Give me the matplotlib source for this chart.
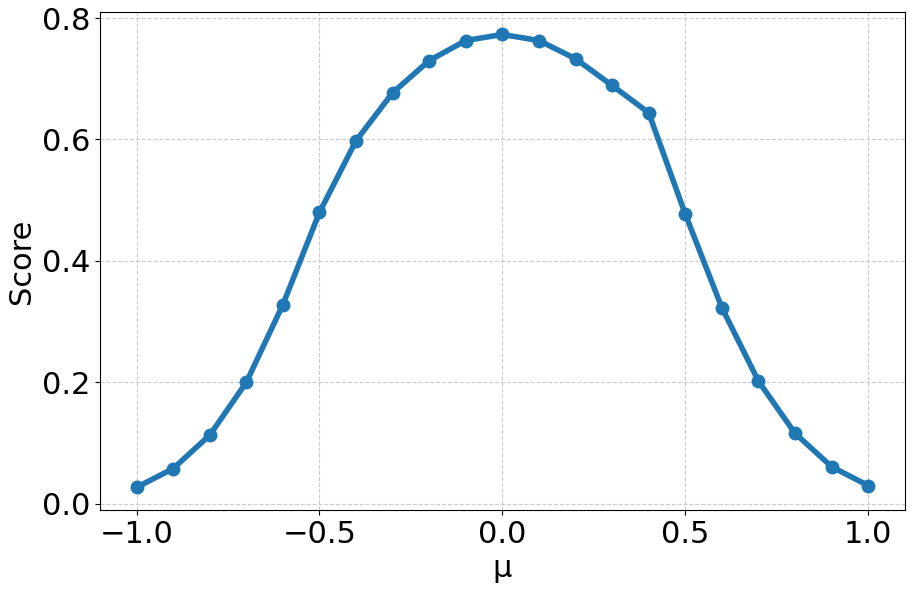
import numpy as np
from matplotlib import pyplot as plt

mu = np.round(np.arange(-1.0, 1.01, 0.1), 1)
score = [0.027, 0.058, 0.113, 0.200, 0.328, 0.480, 0.598, 0.677, 0.730, 0.763,
         0.773, 0.763, 0.733, 0.689, 0.644, 0.477, 0.323, 0.202, 0.116, 0.061, 0.030]

plt.rcParams['font.size'] = 22
fig, ax = plt.subplots(figsize=(9.13, 5.91), dpi=100)
ax.plot(mu, score, '-o', color='#1f77b4', linewidth=4, markersize=9)
ax.set_xlabel('μ')
ax.set_ylabel('Score')
ax.set_xticks([-1.0, -0.5, 0.0, 0.5, 1.0])
ax.set_yticks([0.0, 0.2, 0.4, 0.6, 0.8])
ax.grid(True, linestyle='--', color='#cccccc', linewidth=0.8)
fig.subplots_adjust(left=0.1095, right=0.991, top=0.98, bottom=0.137)
fig.savefig('out.png')
